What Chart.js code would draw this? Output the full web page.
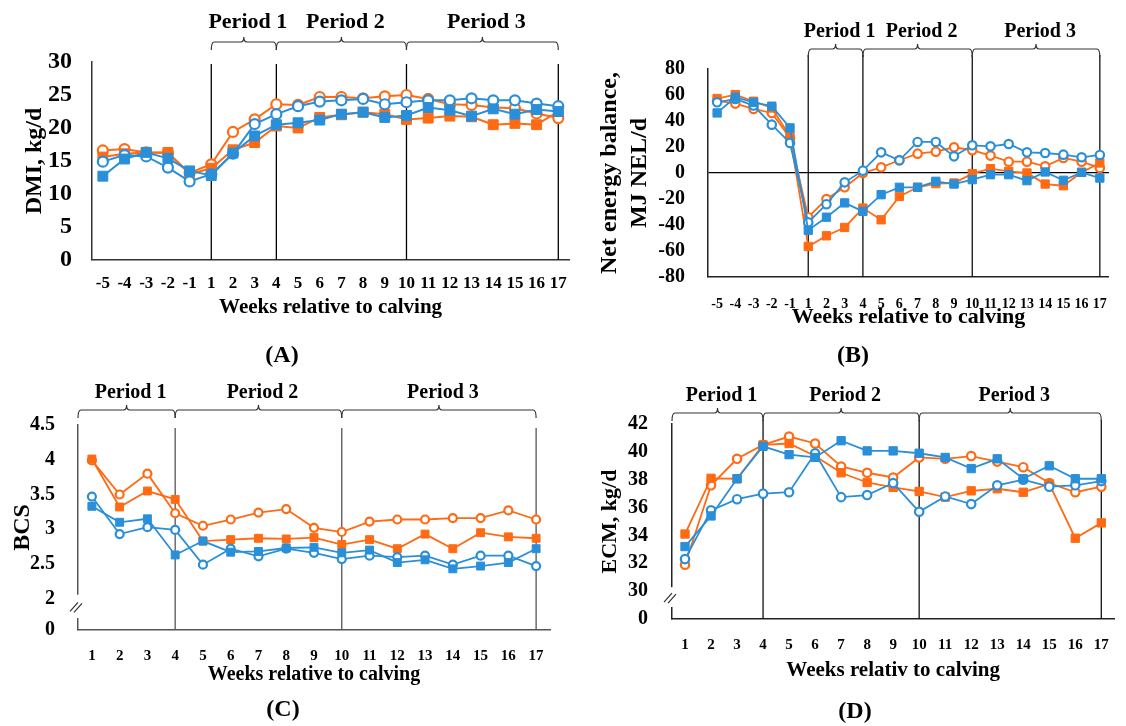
<!DOCTYPE html>
<html>
<head>
<meta charset="utf-8">
<script src="https://cdn.jsdelivr.net/npm/chart.js@4"></script>
<style>
  body { margin: 0; background: #fff; width: 1126px; height: 726px; position: relative; overflow: hidden; }
  canvas { position: absolute; }
</style>
</head>
<body>
<canvas id="cA" width="580" height="370" style="left:0;top:0"></canvas>
<canvas id="cB" width="546" height="370" style="left:580px;top:0"></canvas>
<canvas id="cC" width="580" height="356" style="left:0;top:370px"></canvas>
<canvas id="cD" width="546" height="356" style="left:580px;top:370px"></canvas>
<script>
// weeks relative to calving
var weeksAB = ['-5','-4','-3','-2','-1','1','2','3','4','5','6','7','8','9','10','11','12','13','14','15','16','17'];
var weeksCD = ['1','2','3','4','5','6','7','8','9','10','11','12','13','14','15','16','17'];

// (A) DMI, kg/d
var dmiOrangeOpen   = [16.6,16.8,16.3,16.2,13.2,14.5,19.4,21.3,23.6,23.5,24.7,24.7,24.5,24.8,25.0,24.4,23.6,23.5,23.1,23.0,22.2,21.5];
var dmiOrangeFilled = [15.6,16.1,16.3,16.3,13.0,13.9,16.7,17.8,20.3,20.0,21.6,22.0,22.4,22.1,21.3,21.5,21.8,21.7,20.5,20.7,20.5,22.5];
var dmiBlueOpen     = [14.9,15.9,15.7,14.0,11.9,13.0,16.1,20.6,22.1,23.3,24.0,24.2,24.4,23.6,23.9,24.2,24.2,24.5,24.2,24.2,23.7,23.3];
var dmiBlueFilled   = [12.7,15.3,16.3,15.4,13.5,12.8,16.2,18.8,20.5,20.8,21.2,22.1,22.4,21.6,21.9,23.1,22.7,21.8,22.9,22.1,22.8,22.5];

// (B) net energy balance, MJ NEL/d
var nebOrangeOpen   = [55.7,53.4,49.3,46.2,27,-34,-20,-11,0,4.4,9.8,14.9,16.4,19.8,17.5,13.4,8.7,8.7,5.1,11.6,8.7,3.9];
var nebOrangeFilled = [57.3,60.3,55.2,50,28.2,-56.5,-48.3,-41.9,-27,-36,-18,-11,-8.2,-7.7,-0.5,3.3,1.3,0,-8.5,-9.8,0.5,7.7];
var nebBlueOpen     = [54.4,57,51.9,37.2,23.1,-38,-24,-7.2,1.8,15.9,9.8,23.9,23.9,12.8,21.3,20.5,22.3,15.9,15.4,14.1,12.1,13.9];
var nebBlueFilled   = [46.2,58.3,54.4,51.4,34.7,-44,-34,-23,-29.5,-16.7,-11,-11,-6.4,-8.5,-5.1,-1.3,-1.3,-5.9,0.8,-5.6,0.5,-3.9];

// (C) BCS
var bcsOrangeOpen   = [3.99,3.5,3.8,3.23,3.05,3.14,3.24,3.29,3.02,2.96,3.11,3.14,3.14,3.16,3.16,3.27,3.14];
var bcsOrangeFilled = [4.01,3.32,3.55,3.43,2.83,2.85,2.87,2.86,2.88,2.78,2.85,2.72,2.93,2.72,2.95,2.89,2.87];
var bcsBlueOpen     = [3.47,2.93,3.03,2.99,2.49,2.72,2.61,2.72,2.66,2.57,2.62,2.6,2.62,2.49,2.62,2.62,2.47];
var bcsBlueFilled   = [3.33,3.1,3.15,2.63,2.83,2.67,2.68,2.73,2.74,2.66,2.70,2.52,2.56,2.43,2.47,2.52,2.72];

// (D) ECM, kg/d
var ecmOrangeOpen   = [31.9,37.6,39.5,40.5,41.1,40.6,38.95,38.5,38.16,39.6,39.5,39.7,39.3,38.9,37.76,37.1,37.5];
var ecmOrangeFilled = [34.1,38.1,38.07,40.5,40.6,39.7,38.5,37.8,37.45,37.16,36.75,37.2,37.35,37.1,37.7,33.8,34.9];
var ecmBlueOpen     = [32.3,35.8,36.6,37.0,37.1,39.9,36.75,36.9,37.76,35.7,36.8,36.25,37.6,38.0,37.5,37.6,37.9];
var ecmBlueFilled   = [33.2,35.4,38.07,40.4,39.8,39.6,40.8,40.07,40.07,39.9,39.6,38.8,39.5,38.07,39.0,38.07,38.07];

// broken axes: lowest tick is shown as 0
var bcsTicks = [1.55,2,2.5,3,3.5,4,4.5];
var ecmTicks = [28,30,32,34,36,38,40,42];

var ORANGE = '#FF6A13';
var BLUE = '#2A8FD9';
var SERIF = "'Liberation Serif', 'Times New Roman', serif";

function series(data, color, filled, r, lw) {
  return {
    data: data,
    borderColor: color,
    borderWidth: lw,
    pointStyle: filled ? 'rect' : 'circle',
    pointRadius: filled ? r * 1.4 : r,
    pointBackgroundColor: filled ? color : '#fff',
    pointBorderColor: color,
    pointBorderWidth: filled ? 1 : 2.2,
    tension: 0,
    clip: false
  };
}

function brace(ctx, x1, x2, y) {
  var mid = (x1 + x2) / 2, r = 3, h = 8, t = 5;
  ctx.beginPath();
  ctx.moveTo(x1, y + h);
  ctx.quadraticCurveTo(x1, y, x1 + r, y);
  ctx.lineTo(mid - r, y);
  ctx.quadraticCurveTo(mid, y, mid, y - t);
  ctx.quadraticCurveTo(mid, y, mid + r, y);
  ctx.lineTo(x2 - r, y);
  ctx.quadraticCurveTo(x2, y, x2, y + h);
  ctx.stroke();
}

var periodPlugin = {
  id: 'periods',
  beforeDatasetsDraw: function (chart, args, o) {
    var ctx = chart.ctx, area = chart.chartArea, x = chart.scales.x;
    ctx.save();
    ctx.strokeStyle = o.lineColor;
    ctx.lineWidth = 1.3;
    o.lines.forEach(function (lab) {
      var px = x.getPixelForValue(x.getLabels().indexOf(lab));
      ctx.beginPath();
      ctx.moveTo(px, o.lineTop);
      ctx.lineTo(px, area.bottom);
      ctx.stroke();
    });
    ctx.restore();
  },
  afterDraw: function (chart, args, o) {
    var ctx = chart.ctx, area = chart.chartArea, x = chart.scales.x, y = chart.scales.y;
    ctx.save();
    ctx.strokeStyle = '#333';
    ctx.lineWidth = 1.2;
    ctx.fillStyle = '#000';
    ctx.textAlign = 'center';
    ctx.textBaseline = 'middle';
    ctx.font = 'bold ' + o.labelSize + 'px ' + SERIF;
    o.brackets.forEach(function (b) {
      var x1 = b.from === null ? area.left : x.getPixelForValue(x.getLabels().indexOf(b.from));
      var x2 = x.getPixelForValue(x.getLabels().indexOf(b.to));
      brace(ctx, x1, x2, o.braceY);
      ctx.fillText(b.text, (x1 + x2) / 2 + 4, o.labelY);
    });
    ctx.font = 'bold 24px ' + SERIF;
    ctx.fillText(o.panel, o.panelX, o.panelY);
    if (o.axisBreak) {
      var g1 = y.getPixelForValue(o.axisBreak) - 4, g2 = area.bottom - 12;
      ctx.fillStyle = '#fff';
      ctx.fillRect(area.left - 2, g1, 4, g2 - g1);
      ctx.strokeStyle = '#333';
      ctx.lineWidth = 1.2;
      var m = (g1 + g2) / 2;
      ctx.beginPath();
      ctx.moveTo(area.left - 8, m + 5); ctx.lineTo(area.left, m - 4);
      ctx.moveTo(area.left - 4, m + 6); ctx.lineTo(area.left + 4, m - 3);
      ctx.stroke();
    }
    ctx.restore();
  }
};

function makeChart(id, c) {
  var yScale = {
    min: c.yMin, max: c.yMax,
    grid: { display: !!c.zeroLine, drawTicks: false,
      color: function (g) { return g.tick && g.tick.value === 0 ? '#000' : 'rgba(0,0,0,0)'; },
      lineWidth: 1.2 },
    border: { color: c.axisColor, width: 1.5 },
    ticks: { stepSize: c.yStep, color: '#000', padding: c.yTickPad, autoSkip: false,
      font: { family: SERIF, size: c.yTickSize, weight: 'bold' },
      callback: function (v) { return (c.yZeroAt !== undefined && v === c.yZeroAt) ? '0' : v; } },
    title: { display: true, text: c.yTitle, color: '#000',
      font: { family: SERIF, size: c.yTitleSize, weight: 'bold', lineHeight: 1.25 },
      padding: { top: c.yTitlePad, bottom: 0 } },
    afterFit: function (s) { s.width = c.yWidth; }
  };
  if (c.yTicks) {
    yScale.afterBuildTicks = function (s) { s.ticks = c.yTicks.map(function (v) { return { value: v }; }); };
  }
  return new Chart(document.getElementById(id), {
    type: 'line',
    data: { labels: c.labels, datasets: c.datasets },
    options: {
      responsive: false,
      animation: false,
      layout: { padding: c.padding },
      plugins: { legend: { display: false }, tooltip: { enabled: false }, periods: c.periods },
      scales: {
        x: {
          offset: true,
          grid: { display: false, drawTicks: false, offset: true },
          border: { color: c.axisColor, width: 1.5 },
          ticks: { color: '#000', padding: c.xTickPad, maxRotation: 0, autoSkip: false,
            font: { family: SERIF, size: c.xTickSize, weight: 'bold' } },
          title: { display: true, text: c.xTitle, color: '#000',
            font: { family: SERIF, size: c.xTitleSize, weight: 'bold' },
            padding: { top: 0, bottom: c.xTitlePad } },
          afterFit: function (s) { s.height = c.xHeight; }
        },
        y: yScale
      }
    },
    plugins: [periodPlugin]
  });
}

makeChart('cA', {
  labels: weeksAB,
  datasets: [
    series(dmiBlueFilled, BLUE, true, 5, 2),
    series(dmiBlueOpen, BLUE, false, 5, 2),
    series(dmiOrangeFilled, ORANGE, true, 5, 2),
    series(dmiOrangeOpen, ORANGE, false, 5, 2)
  ],
  padding: { top: 62, right: 9, left: 0, bottom: 0 },
  axisColor: '#333',
  yMin: 0, yMax: 30, yStep: 5, yTickSize: 24, yTickPad: 20, yWidth: 92,
  yTitle: 'DMI, kg/d', yTitleSize: 24, yTitlePad: 20,
  xTickSize: 17, xTickPad: 13, xTitle: 'Weeks relative to calving', xTitleSize: 21, xTitlePad: 50, xHeight: 110,
  periods: {
    lines: ['1', '4', '10', '17'], lineTop: 64, lineColor: '#000',
    brackets: [{ from: '1', to: '4', text: 'Period 1' }, { from: '4', to: '10', text: 'Period 2' }, { from: '10', to: '17', text: 'Period 3' }],
    braceY: 42, labelY: 22, labelSize: 22,
    panel: '(A)', panelX: 282, panelY: 356
  }
});

makeChart('cB', {
  labels: weeksAB,
  datasets: [
    series(nebBlueFilled, BLUE, true, 4.2, 1.8),
    series(nebBlueOpen, BLUE, false, 4.2, 1.8),
    series(nebOrangeFilled, ORANGE, true, 4.2, 1.8),
    series(nebOrangeOpen, ORANGE, false, 4.2, 1.8)
  ],
  padding: { top: 69, right: 7, left: 0, bottom: 0 },
  axisColor: '#222', zeroLine: true,
  yMin: -80, yMax: 80, yStep: 20, yTickSize: 20, yTickPad: 23, yWidth: 128,
  yTitle: ['Net energy balance,', 'MJ NEL/d'], yTitleSize: 24, yTitlePad: 15,
  xTickSize: 14, xTickPad: 19, xTitle: 'Weeks relative to calving', xTitleSize: 22, xTitlePad: 39, xHeight: 93,
  periods: {
    lines: ['1', '4', '10', '17'], lineTop: 55, lineColor: '#111',
    brackets: [{ from: '1', to: '4', text: 'Period 1' }, { from: '4', to: '10', text: 'Period 2' }, { from: '10', to: '17', text: 'Period 3' }],
    braceY: 49, labelY: 32, labelSize: 20,
    panel: '(B)', panelX: 273, panelY: 356
  }
});

makeChart('cC', {
  labels: weeksCD,
  datasets: [
    series(bcsBlueFilled, BLUE, true, 4, 1.8),
    series(bcsBlueOpen, BLUE, false, 4, 1.8),
    series(bcsOrangeFilled, ORANGE, true, 4, 1.8),
    series(bcsOrangeOpen, ORANGE, false, 4, 1.8)
  ],
  padding: { top: 55, right: 30, left: 0, bottom: 0 },
  axisColor: '#555',
  yMin: 1.55, yMax: 4.5, yTicks: bcsTicks, yZeroAt: 1.55, yTickSize: 20, yTickPad: 23, yWidth: 78,
  yTitle: 'BCS', yTitleSize: 24, yTitlePad: 8,
  xTickSize: 15, xTickPad: 17, xTitle: 'Weeks relative to calving', xTitleSize: 20, xTitlePad: 39, xHeight: 96,
  periods: {
    lines: ['4', '10', '17'], lineTop: 58, lineColor: '#555',
    brackets: [{ from: null, to: '4', text: 'Period 1' }, { from: '4', to: '10', text: 'Period 2' }, { from: '10', to: '17', text: 'Period 3' }],
    braceY: 40, labelY: 23, labelSize: 20,
    axisBreak: 2,
    panel: '(C)', panelX: 283, panelY: 340
  }
});

makeChart('cD', {
  labels: weeksCD,
  datasets: [
    series(ecmBlueFilled, BLUE, true, 4.2, 1.8),
    series(ecmBlueOpen, BLUE, false, 4.2, 1.8),
    series(ecmOrangeFilled, ORANGE, true, 4.2, 1.8),
    series(ecmOrangeOpen, ORANGE, false, 4.2, 1.8)
  ],
  padding: { top: 54, right: 0, left: 0, bottom: 0 },
  axisColor: '#222',
  yMin: 28, yMax: 42, yTicks: ecmTicks, yZeroAt: 28, yTickSize: 20, yTickPad: 24, yWidth: 92,
  yTitle: 'ECM, kg/d', yTitleSize: 22, yTitlePad: 17,
  xTickSize: 15, xTickPad: 17, xTitle: 'Weeks relativ to calving', xTitleSize: 21, xTitlePad: 43, xHeight: 107,
  periods: {
    lines: ['4', '10', '17'], lineTop: 50, lineColor: '#111',
    brackets: [{ from: null, to: '4', text: 'Period 1' }, { from: '4', to: '10', text: 'Period 2' }, { from: '10', to: '17', text: 'Period 3' }],
    braceY: 43, labelY: 26, labelSize: 20,
    axisBreak: 30,
    panel: '(D)', panelX: 275, panelY: 342
  }
});
</script>
</body>
</html>
